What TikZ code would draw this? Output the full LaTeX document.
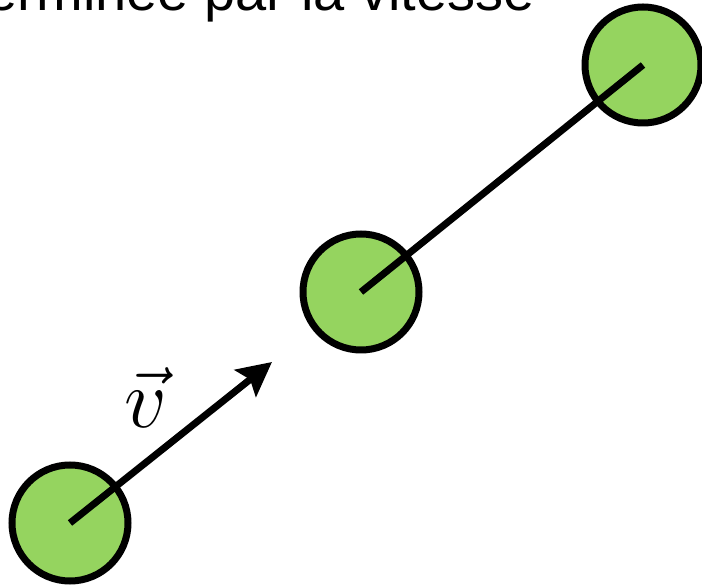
\documentclass[tikz,border=0pt]{standalone}
\usepackage{fix-cm}
\usepackage{fontspec}
\setmainfont{Liberation Sans}
\usetikzlibrary{arrows.meta}
\definecolor{ballgreen}{RGB}{149,212,95}
\begin{document}
\begin{tikzpicture}[x=0.5pt,y=-0.5pt,
  ball/.style={circle,draw=black,fill=ballgreen,line width=3.5pt,minimum size=58pt,inner sep=0pt},
  stick/.style={line width=3.5pt,line cap=butt}]
\useasboundingbox (0,0) rectangle (702,587);
\clip (0,0) rectangle (702,587);
\node[anchor=base east,inner sep=0pt,font=\fontsize{28}{34}\selectfont] (title) at (535,11) {déterminée par la vitesse};
\node[ball] (b1) at (70,523) {};
\node[ball] (b2) at (361,292) {};
\node[ball] (b3) at (643,65) {};
\coordinate (tip) at (272,362);
\draw[stick,-{Stealth[length=17pt,width=17pt,inset=3pt]}] (b1.center) -- (tip);
\draw[stick] (b2.center) -- (b3.center);
\node[font=\fontsize{42}{48}\selectfont] (v) at (146,398) {$\vec{v}$};
\end{tikzpicture}
\end{document}
